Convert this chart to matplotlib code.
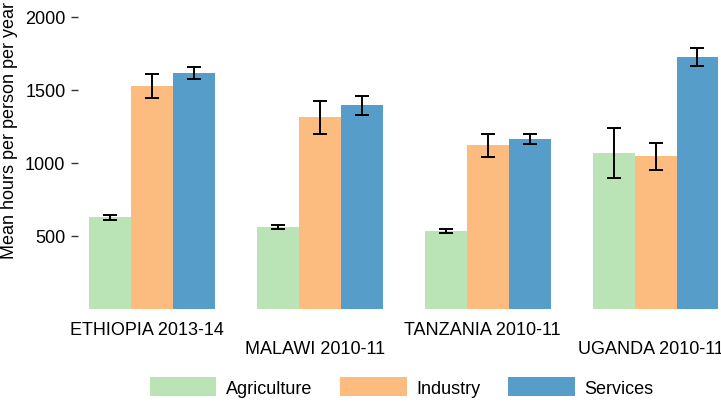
import matplotlib
matplotlib.use("Agg")
import matplotlib.pyplot as plt
import matplotlib.transforms as mtransforms
import numpy as np

plt.rcParams['font.family'] = ['Liberation Sans', 'DejaVu Sans']

countries = ["ETHIOPIA 2013-14", "MALAWI 2010-11", "TANZANIA 2010-11", "UGANDA 2010-11"]
sectors = ["Agriculture", "Industry", "Services"]
colors = ["#bae4b6", "#fcbb7f", "#569dc9"]

agri = [628, 562, 535, 1068]
agri_lo = [612, 548, 522, 897]
agri_hi = [643, 576, 548, 1240]

industry = [1527, 1310, 1120, 1048]
industry_lo = [1445, 1200, 1040, 952]
industry_hi = [1605, 1420, 1200, 1137]

services = [1616, 1395, 1160, 1720]
services_lo = [1575, 1330, 1125, 1660]
services_hi = [1653, 1460, 1195, 1785]

FS = 13
W, H = 721, 406
fig = plt.figure(figsize=(W / 100, H / 100), dpi=100)
ax_left, ax_bottom_px, ax_top_px = 78, 310, 0
ax = fig.add_axes([ax_left / W, (H - ax_bottom_px) / H, 1 - ax_left / W, (ax_bottom_px - ax_top_px) / H])

x = np.arange(len(countries))
bw = 0.25
series = [(agri, agri_lo, agri_hi), (industry, industry_lo, industry_hi), (services, services_lo, services_hi)]
for i, ((vals, lo, hi), name, col) in enumerate(zip(series, sectors, colors)):
    pos = x + (i - 1) * bw
    vals = np.array(vals); lo = np.array(lo); hi = np.array(hi)
    ax.bar(pos, vals, width=bw, color=col, label=name, linewidth=0)
    ax.errorbar(pos, vals, yerr=[vals - lo, hi - vals], fmt='none', ecolor='black',
                elinewidth=1.4, capsize=5, capthick=1.4)

ax.set_xlim(-0.44, 3.39)
ax.set_ylim(0, 2120)
ax.set_yticks([500, 1000, 1500, 2000])
ax.tick_params(axis='y', length=5, width=1, color='#333333', pad=4, labelsize=FS)
ax.set_xticks(x)
ax.set_xticklabels(countries, fontsize=FS)
ax.tick_params(axis='x', length=0, labelsize=FS)
shift = mtransforms.ScaledTranslation(-5 / 100, 0, fig.dpi_scale_trans)
for i, t in enumerate(ax.xaxis.get_major_ticks()):
    t.set_pad(9 if i % 2 == 0 else 22)
for lab in ax.get_xticklabels():
    lab.set_transform(lab.get_transform() + shift)
for s in ax.spines.values():
    s.set_visible(False)

ax.set_ylabel("Mean hours per person per year", fontsize=FS)
ax.yaxis.set_label_coords(-0.094, 0.58)

fig.legend(loc='center', bbox_to_anchor=(0.557, (H - 388) / H), ncol=3, frameon=False,
           fontsize=FS, handlelength=3.7, handleheight=1.25, handletextpad=0.55,
           columnspacing=1.5)

fig.savefig("out.png", dpi=100)
